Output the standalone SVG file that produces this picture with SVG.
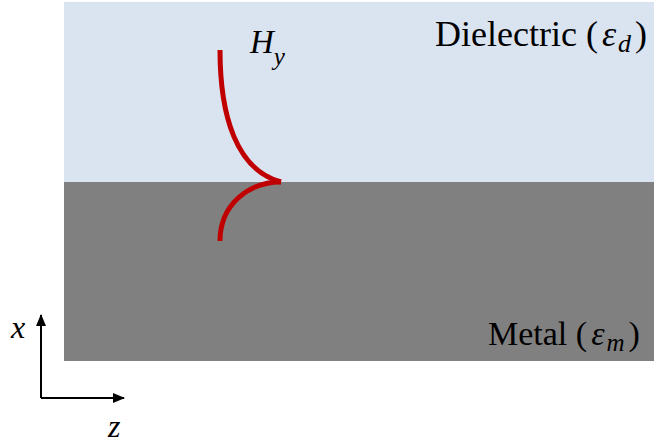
<svg xmlns="http://www.w3.org/2000/svg" width="654" height="446" viewBox="0 0 654 446">
<style>
.t{font-family:"Liberation Serif","Times New Roman",serif;fill:#000}
.i{font-style:italic}
.ax{stroke:#000;stroke-width:2;fill:none}
.h{stroke:#C00000;stroke-width:5;fill:none}
</style>
<defs>
<marker id="ah" markerWidth="12" markerHeight="10" refX="11" refY="5" orient="auto" markerUnits="userSpaceOnUse">
<path d="M0,0 L12,5 L0,10 Z" fill="#000"/>
</marker>
</defs>
<g id="dielectric">
<rect x="64" y="2" width="590" height="180" fill="#DAE3F0"/>
<text class="t" x="435" y="46" font-size="36">Dielectric (<tspan class="i" dx="4">ε</tspan><tspan class="i" font-size="26" dx="2" dy="6">d</tspan><tspan dx="4" dy="-6">)</tspan></text>
</g>
<g id="metal">
<rect x="64" y="182" width="590" height="179" fill="#808080"/>
<text class="t" x="488" y="345" font-size="34">Metal (<tspan class="i" dx="4">ε</tspan><tspan class="i" font-size="25" dx="2" dy="6">m</tspan><tspan dx="4" dy="-6">)</tspan></text>
</g>
<g id="field">
<path class="h" d="M220,50 C220,115 236,170 281,182"/>
<path class="h" d="M281,182 C248,182 220,205 220,241"/>
<text class="t i" x="250" y="53" font-size="33">H<tspan font-size="25" dy="12">y</tspan></text>
</g>
<g id="connectors">
<path class="ax" d="M41,398 L41,315" marker-end="url(#ah)"/>
<path class="ax" d="M41,398 L124,398" marker-end="url(#ah)"/>
</g>
<g id="axis-labels">
<text class="t i" x="11" y="338" font-size="32">x</text>
<text class="t i" x="108" y="437" font-size="32">z</text>
</g>
</svg>
